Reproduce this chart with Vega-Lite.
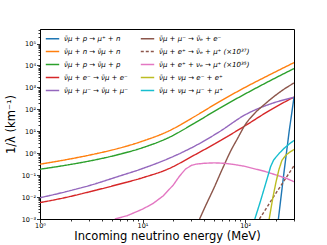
{
 "$schema": "https://vega.github.io/schema/vega-lite/v6.json",
 "width": 254, "height": 190,
 "autosize": {"type": "none"},
 "padding": {"left": 40, "top": 29, "right": 33, "bottom": 26},
 "config": {
  "font": "DejaVu Sans",
  "view": {"stroke": "black", "strokeWidth": 1},
  "axis": {"domainColor": "black", "tickColor": "black", "labelColor": "black", "titleColor": "black", "grid": false, "labelFontSize": 6.5, "titleFontSize": 11.5, "titleFontWeight": "normal", "labelOverlap": false, "labelFlush": false, "domainWidth": 1, "tickWidth": 0.8},
  "legend": {"orient": "none", "legendX": 7, "legendY": 4, "columns": 2, "labelFontSize": 7, "labelFontStyle": "italic", "symbolType": "M-1.5,0H1.5", "symbolSize": 80, "symbolStrokeWidth": 1.4, "rowPadding": 4, "columnPadding": 9, "padding": 0, "labelOffset": 6}
 },
 "data": {"values": [
  {"s": "ν̄μ + p → μ⁺ + n", "E": 211.3, "v": 0.001},
  {"s": "ν̄μ + p → μ⁺ + n", "E": 239.9, "v": 0.141},
  {"s": "ν̄μ + p → μ⁺ + n", "E": 269.2, "v": 10},
  {"s": "ν̄μ + p → μ⁺ + n", "E": 300, "v": 355},
  {"s": "ν̄μ + n → ν̄μ + n", "E": 1, "v": 0.316},
  {"s": "ν̄μ + n → ν̄μ + n", "E": 1.778, "v": 0.501},
  {"s": "ν̄μ + n → ν̄μ + n", "E": 3.162, "v": 0.851},
  {"s": "ν̄μ + n → ν̄μ + n", "E": 5.623, "v": 1.585},
  {"s": "ν̄μ + n → ν̄μ + n", "E": 10, "v": 3.548},
  {"s": "ν̄μ + n → ν̄μ + n", "E": 17.78, "v": 10},
  {"s": "ν̄μ + n → ν̄μ + n", "E": 31.62, "v": 44.7},
  {"s": "ν̄μ + n → ν̄μ + n", "E": 56.23, "v": 224},
  {"s": "ν̄μ + n → ν̄μ + n", "E": 100, "v": 1000},
  {"s": "ν̄μ + n → ν̄μ + n", "E": 177.8, "v": 3981},
  {"s": "ν̄μ + n → ν̄μ + n", "E": 300, "v": 13490},
  {"s": "ν̄μ + p → ν̄μ + p", "E": 1, "v": 0.186},
  {"s": "ν̄μ + p → ν̄μ + p", "E": 1.778, "v": 0.282},
  {"s": "ν̄μ + p → ν̄μ + p", "E": 3.162, "v": 0.457},
  {"s": "ν̄μ + p → ν̄μ + p", "E": 5.623, "v": 0.832},
  {"s": "ν̄μ + p → ν̄μ + p", "E": 10, "v": 1.778},
  {"s": "ν̄μ + p → ν̄μ + p", "E": 17.78, "v": 5.01},
  {"s": "ν̄μ + p → ν̄μ + p", "E": 31.62, "v": 22.4},
  {"s": "ν̄μ + p → ν̄μ + p", "E": 56.23, "v": 112},
  {"s": "ν̄μ + p → ν̄μ + p", "E": 100, "v": 501},
  {"s": "ν̄μ + p → ν̄μ + p", "E": 177.8, "v": 2089},
  {"s": "ν̄μ + p → ν̄μ + p", "E": 300, "v": 7244},
  {"s": "ν̄μ + e⁻ → ν̄μ + e⁻", "E": 1, "v": 0.00562},
  {"s": "ν̄μ + e⁻ → ν̄μ + e⁻", "E": 1.778, "v": 0.00955},
  {"s": "ν̄μ + e⁻ → ν̄μ + e⁻", "E": 3.162, "v": 0.0182},
  {"s": "ν̄μ + e⁻ → ν̄μ + e⁻", "E": 5.623, "v": 0.0363},
  {"s": "ν̄μ + e⁻ → ν̄μ + e⁻", "E": 10, "v": 0.0759},
  {"s": "ν̄μ + e⁻ → ν̄μ + e⁻", "E": 17.78, "v": 0.191},
  {"s": "ν̄μ + e⁻ → ν̄μ + e⁻", "E": 31.62, "v": 0.794},
  {"s": "ν̄μ + e⁻ → ν̄μ + e⁻", "E": 56.23, "v": 3.55},
  {"s": "ν̄μ + e⁻ → ν̄μ + e⁻", "E": 100, "v": 17.8},
  {"s": "ν̄μ + e⁻ → ν̄μ + e⁻", "E": 177.8, "v": 95.5},
  {"s": "ν̄μ + e⁻ → ν̄μ + e⁻", "E": 300, "v": 363},
  {"s": "ν̄μ + μ⁻ → ν̄μ + μ⁻", "E": 1, "v": 0.00933},
  {"s": "ν̄μ + μ⁻ → ν̄μ + μ⁻", "E": 1.778, "v": 0.0174},
  {"s": "ν̄μ + μ⁻ → ν̄μ + μ⁻", "E": 3.162, "v": 0.0355},
  {"s": "ν̄μ + μ⁻ → ν̄μ + μ⁻", "E": 5.623, "v": 0.0832},
  {"s": "ν̄μ + μ⁻ → ν̄μ + μ⁻", "E": 10, "v": 0.2},
  {"s": "ν̄μ + μ⁻ → ν̄μ + μ⁻", "E": 17.78, "v": 0.562},
  {"s": "ν̄μ + μ⁻ → ν̄μ + μ⁻", "E": 31.62, "v": 2.0},
  {"s": "ν̄μ + μ⁻ → ν̄μ + μ⁻", "E": 56.23, "v": 9.55},
  {"s": "ν̄μ + μ⁻ → ν̄μ + μ⁻", "E": 100, "v": 56.2},
  {"s": "ν̄μ + μ⁻ → ν̄μ + μ⁻", "E": 177.8, "v": 178},
  {"s": "ν̄μ + μ⁻ → ν̄μ + μ⁻", "E": 300, "v": 355},
  {"s": "ν̄μ + μ⁻ → ν̄ₑ + e⁻", "E": 36, "v": 0.001},
  {"s": "ν̄μ + μ⁻ → ν̄ₑ + e⁻", "E": 39.8, "v": 0.00282},
  {"s": "ν̄μ + μ⁻ → ν̄ₑ + e⁻", "E": 50.1, "v": 0.0282},
  {"s": "ν̄μ + μ⁻ → ν̄ₑ + e⁻", "E": 60.3, "v": 0.2},
  {"s": "ν̄μ + μ⁻ → ν̄ₑ + e⁻", "E": 72.4, "v": 1.26},
  {"s": "ν̄μ + μ⁻ → ν̄ₑ + e⁻", "E": 85.1, "v": 5.01},
  {"s": "ν̄μ + μ⁻ → ν̄ₑ + e⁻", "E": 100, "v": 19.5},
  {"s": "ν̄μ + μ⁻ → ν̄ₑ + e⁻", "E": 126, "v": 70.8},
  {"s": "ν̄μ + μ⁻ → ν̄ₑ + e⁻", "E": 158.5, "v": 186},
  {"s": "ν̄μ + μ⁻ → ν̄ₑ + e⁻", "E": 199.5, "v": 447},
  {"s": "ν̄μ + μ⁻ → ν̄ₑ + e⁻", "E": 251, "v": 955},
  {"s": "ν̄μ + μ⁻ → ν̄ₑ + e⁻", "E": 300, "v": 1585},
  {"s": "ν̄μ + e⁺ → ν̄ₑ + μ⁺ (×10³⁷)", "E": 138, "v": 0.001},
  {"s": "ν̄μ + e⁺ → ν̄ₑ + μ⁺ (×10³⁷)", "E": 199.5, "v": 0.0148},
  {"s": "ν̄μ + e⁺ → ν̄ₑ + μ⁺ (×10³⁷)", "E": 300, "v": 0.269},
  {"s": "ν̄μ + e⁺ + νₑ → μ⁺ (×10³⁵)", "E": 5.37, "v": 0.001},
  {"s": "ν̄μ + e⁺ + νₑ → μ⁺ (×10³⁵)", "E": 7.08, "v": 0.00141},
  {"s": "ν̄μ + e⁺ + νₑ → μ⁺ (×10³⁵)", "E": 10, "v": 0.00282},
  {"s": "ν̄μ + e⁺ + νₑ → μ⁺ (×10³⁵)", "E": 12.6, "v": 0.00501},
  {"s": "ν̄μ + e⁺ + νₑ → μ⁺ (×10³⁵)", "E": 15.85, "v": 0.0112},
  {"s": "ν̄μ + e⁺ + νₑ → μ⁺ (×10³⁵)", "E": 19.95, "v": 0.0355},
  {"s": "ν̄μ + e⁺ + νₑ → μ⁺ (×10³⁵)", "E": 22.9, "v": 0.0891},
  {"s": "ν̄μ + e⁺ + νₑ → μ⁺ (×10³⁵)", "E": 26.3, "v": 0.191},
  {"s": "ν̄μ + e⁺ + νₑ → μ⁺ (×10³⁵)", "E": 30.2, "v": 0.282},
  {"s": "ν̄μ + e⁺ + νₑ → μ⁺ (×10³⁵)", "E": 33.1, "v": 0.316},
  {"s": "ν̄μ + e⁺ + νₑ → μ⁺ (×10³⁵)", "E": 39.8, "v": 0.347},
  {"s": "ν̄μ + e⁺ + νₑ → μ⁺ (×10³⁵)", "E": 50.1, "v": 0.363},
  {"s": "ν̄μ + e⁺ + νₑ → μ⁺ (×10³⁵)", "E": 63.1, "v": 0.347},
  {"s": "ν̄μ + e⁺ + νₑ → μ⁺ (×10³⁵)", "E": 79.4, "v": 0.302},
  {"s": "ν̄μ + e⁺ + νₑ → μ⁺ (×10³⁵)", "E": 100, "v": 0.251},
  {"s": "ν̄μ + e⁺ + νₑ → μ⁺ (×10³⁵)", "E": 158.5, "v": 0.145},
  {"s": "ν̄μ + e⁺ + νₑ → μ⁺ (×10³⁵)", "E": 251, "v": 0.0724},
  {"s": "ν̄μ + e⁺ + νₑ → μ⁺ (×10³⁵)", "E": 300, "v": 0.0501},
  {"s": "ν̄μ + νμ → e⁻ + e⁺", "E": 171.8, "v": 0.001},
  {"s": "ν̄μ + νμ → e⁻ + e⁺", "E": 186.2, "v": 0.00891},
  {"s": "ν̄μ + νμ → e⁻ + e⁺", "E": 199.5, "v": 0.0447},
  {"s": "ν̄μ + νμ → e⁻ + e⁺", "E": 213.8, "v": 0.178},
  {"s": "ν̄μ + νμ → e⁻ + e⁺", "E": 229, "v": 0.479},
  {"s": "ν̄μ + νμ → e⁻ + e⁺", "E": 251, "v": 0.832},
  {"s": "ν̄μ + νμ → e⁻ + e⁺", "E": 275.4, "v": 1.15},
  {"s": "ν̄μ + νμ → e⁻ + e⁺", "E": 300, "v": 1.48},
  {"s": "ν̄μ + νμ → μ⁻ + μ⁺", "E": 124.5, "v": 0.001},
  {"s": "ν̄μ + νμ → μ⁻ + μ⁺", "E": 141, "v": 0.00631},
  {"s": "ν̄μ + νμ → μ⁻ + μ⁺", "E": 158.5, "v": 0.0398},
  {"s": "ν̄μ + νμ → μ⁻ + μ⁺", "E": 177.8, "v": 0.251},
  {"s": "ν̄μ + νμ → μ⁻ + μ⁺", "E": 190.5, "v": 0.501},
  {"s": "ν̄μ + νμ → μ⁻ + μ⁺", "E": 213.8, "v": 0.955},
  {"s": "ν̄μ + νμ → μ⁻ + μ⁺", "E": 239.9, "v": 1.66},
  {"s": "ν̄μ + νμ → μ⁻ + μ⁺", "E": 269.2, "v": 2.63},
  {"s": "ν̄μ + νμ → μ⁻ + μ⁺", "E": 300, "v": 3.8}
 ]},
 "encoding": {
  "x": {"field": "E", "type": "quantitative", "scale": {"type": "log", "domain": [1, 300], "nice": false},
   "axis": {"title": "Incoming neutrino energy (MeV)", "titleY": 20, "titleBaseline": "alphabetic",
    "values": [1,2,3,4,5,6,7,8,9,10,20,30,40,50,60,70,80,90,100,200,300],
    "labelPadding": 0,
    "tickSize": {"condition": {"test": "abs(log(datum.value)/LN10 - round(log(datum.value)/LN10)) < 0.001", "value": 3.5}, "value": 2},
    "labelExpr": "abs(log(datum.value)/LN10 - round(log(datum.value)/LN10)) < 0.001 ? '10' + replace(replace(replace(replace(replace(replace(replace(replace('' + round(log(datum.value)/LN10), '-', '⁻'), '0', '⁰'), '1', '¹'), '2', '²'), '3', '³'), '4', '⁴'), '5', '⁵'), '6', '⁶') : ''"}},
  "y": {"field": "v", "type": "quantitative", "scale": {"type": "log", "domain": [0.001, 460000], "nice": false},
   "axis": {"title": "1/λ (km⁻¹)", "titlePadding": 5,
    "values": [0.001,0.002,0.003,0.004,0.005,0.006,0.007,0.008,0.009,0.01,0.02,0.03,0.04,0.05,0.06,0.07,0.08,0.09,0.1,0.2,0.3,0.4,0.5,0.6,0.7,0.8,0.9,1,2,3,4,5,6,7,8,9,10,20,30,40,50,60,70,80,90,100,200,300,400,500,600,700,800,900,1000,2000,3000,4000,5000,6000,7000,8000,9000,10000,20000,30000,40000,50000,60000,70000,80000,90000,100000,200000,300000,400000],
    "labelPadding": 1,
    "tickSize": {"condition": {"test": "abs(log(datum.value)/LN10 - round(log(datum.value)/LN10)) < 0.001", "value": 3.5}, "value": 2},
    "labelExpr": "abs(log(datum.value)/LN10 - round(log(datum.value)/LN10)) < 0.001 ? '10' + replace(replace(replace(replace(replace(replace(replace(replace('' + round(log(datum.value)/LN10), '-', '⁻'), '0', '⁰'), '1', '¹'), '2', '²'), '3', '³'), '4', '⁴'), '5', '⁵'), '6', '⁶') : ''"}},
  "color": {"field": "s", "type": "nominal", "title": null,
   "scale": {"domain": ["ν̄μ + p → μ⁺ + n", "ν̄μ + n → ν̄μ + n", "ν̄μ + p → ν̄μ + p", "ν̄μ + e⁻ → ν̄μ + e⁻", "ν̄μ + μ⁻ → ν̄μ + μ⁻", "ν̄μ + μ⁻ → ν̄ₑ + e⁻", "ν̄μ + e⁺ → ν̄ₑ + μ⁺ (×10³⁷)", "ν̄μ + e⁺ + νₑ → μ⁺ (×10³⁵)", "ν̄μ + νμ → e⁻ + e⁺", "ν̄μ + νμ → μ⁻ + μ⁺"],
    "range": ["#1f77b4", "#ff7f0e", "#2ca02c", "#d62728", "#9467bd", "#8c564b", "#8c564b", "#e377c2", "#bcbd22", "#17becf"]}},
  "strokeDash": {"field": "s", "type": "nominal", "title": null,
   "scale": {"domain": ["ν̄μ + p → μ⁺ + n", "ν̄μ + n → ν̄μ + n", "ν̄μ + p → ν̄μ + p", "ν̄μ + e⁻ → ν̄μ + e⁻", "ν̄μ + μ⁻ → ν̄μ + μ⁻", "ν̄μ + μ⁻ → ν̄ₑ + e⁻", "ν̄μ + e⁺ → ν̄ₑ + μ⁺ (×10³⁷)", "ν̄μ + e⁺ + νₑ → μ⁺ (×10³⁵)", "ν̄μ + νμ → e⁻ + e⁺", "ν̄μ + νμ → μ⁻ + μ⁺"],
    "range": [[1,0],[1,0],[1,0],[1,0],[1,0],[1,0],[3,2],[1,0],[1,0],[1,0]]}}
 },
 "layer": [
  {"transform": [{"filter": {"field": "s", "oneOf": ["ν̄μ + n → ν̄μ + n", "ν̄μ + p → ν̄μ + p", "ν̄μ + e⁻ → ν̄μ + e⁻", "ν̄μ + μ⁻ → ν̄μ + μ⁻", "ν̄μ + μ⁻ → ν̄ₑ + e⁻"]}}],
   "mark": {"type": "line", "strokeWidth": 1.4, "clip": true, "interpolate": "monotone"}},
  {"transform": [{"filter": {"not": {"field": "s", "oneOf": ["ν̄μ + n → ν̄μ + n", "ν̄μ + p → ν̄μ + p", "ν̄μ + e⁻ → ν̄μ + e⁻", "ν̄μ + μ⁻ → ν̄μ + μ⁻", "ν̄μ + μ⁻ → ν̄ₑ + e⁻"]}}}],
   "mark": {"type": "line", "strokeWidth": 1.4, "clip": true}}
 ]
}
